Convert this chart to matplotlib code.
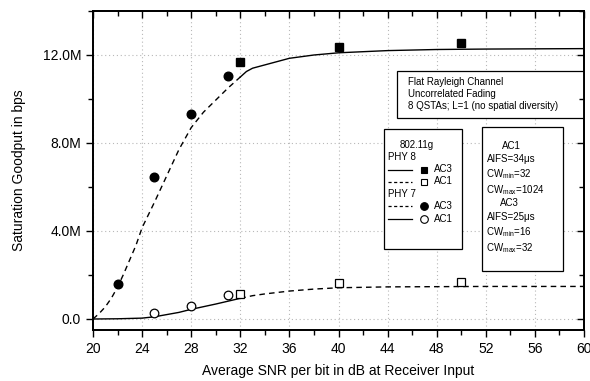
import matplotlib
matplotlib.use("Agg")
import matplotlib.pyplot as plt
from matplotlib.patches import Rectangle
from matplotlib.lines import Line2D
from matplotlib.ticker import MultipleLocator, FuncFormatter, NullFormatter

plt.rcParams['font.family'] = ['Liberation Sans', 'DejaVu Sans']
plt.rcParams['mathtext.fontset'] = 'custom'
plt.rcParams['mathtext.rm'] = 'Liberation Sans'
plt.rcParams['mathtext.it'] = 'Liberation Sans'

# ---- data (Mbps) ----
# simulation points
ac3_phy7_x = [22, 25, 28, 31]
ac3_phy7_y = [1.60, 6.44, 9.31, 11.03]
ac3_phy8_x = [32, 40, 50]
ac3_phy8_y = [11.70, 12.38, 12.55]
ac1_phy7_x = [25, 28, 31]
ac1_phy7_y = [0.29, 0.60, 1.07]
ac1_phy8_x = [32, 40, 50]
ac1_phy8_y = [1.12, 1.65, 1.68]

# analytical curves
ac3_phy7_cx = [20, 20.5, 21, 21.5, 22, 22.5, 23, 23.5, 24, 25, 26, 27, 28, 29, 30, 31, 32]
ac3_phy7_cy = [0.0, 0.25, 0.55, 0.95, 1.45, 2.05, 2.7, 3.35, 4.15, 5.3, 6.5, 7.7, 8.7, 9.4, 9.95, 10.5, 11.0]
ac3_phy8_cx = [32, 32.5, 33, 34, 35, 36, 38, 40, 44, 48, 52, 56, 60]
ac3_phy8_cy = [11.0, 11.25, 11.4, 11.55, 11.7, 11.85, 12.0, 12.1, 12.2, 12.25, 12.27, 12.28, 12.29]
ac1_phy7_cx = [20, 22, 24, 25, 26, 27, 28, 29, 30, 31, 32]
ac1_phy7_cy = [0.0, 0.01, 0.04, 0.1, 0.2, 0.3, 0.44, 0.56, 0.68, 0.81, 0.94]
ac1_phy8_cx = [32, 33, 34, 36, 38, 40, 44, 48, 52, 56, 60]
ac1_phy8_cy = [0.94, 1.06, 1.14, 1.27, 1.36, 1.42, 1.46, 1.47, 1.48, 1.48, 1.48]

xticks = [20, 24, 28, 32, 36, 40, 44, 48, 52, 56, 60]
yticks = [0, 4, 8, 12]

W, H = 590, 381
L, R, T, B = 93, 584, 11, 330

fig = plt.figure(figsize=(W / 100, H / 100), dpi=100)
ax = fig.add_axes([L / W, 1 - B / H, (R - L) / W, (B - T) / H])

def M(v):
    return [a * 1e6 for a in v]

ax.plot(ac3_phy7_cx, M(ac3_phy7_cy), color='black', lw=1.0, ls=(0, (4, 3)))
ax.plot(ac3_phy8_cx, M(ac3_phy8_cy), color='black', lw=1.0, ls='-')
ax.plot(ac1_phy7_cx, M(ac1_phy7_cy), color='black', lw=1.0, ls='-')
ax.plot(ac1_phy8_cx, M(ac1_phy8_cy), color='black', lw=1.0, ls=(0, (4, 3)))

ax.plot(ac3_phy7_x, M(ac3_phy7_y), 'o', color='black', ms=6.2, ls='none')
ax.plot(ac3_phy8_x, M(ac3_phy8_y), 's', color='black', ms=5.5, ls='none')
ax.plot(ac1_phy7_x, M(ac1_phy7_y), 'o', mfc='white', mec='black', mew=0.9, ms=6.2, ls='none')
ax.plot(ac1_phy8_x, M(ac1_phy8_y), 's', mfc='white', mec='black', mew=0.9, ms=5.5, ls='none')

ax.set_xlim(20, 60)
ax.set_ylim(-0.5e6, 14e6)
ax.set_xticks(xticks)
ax.set_yticks(M(yticks))
ax.xaxis.set_minor_locator(MultipleLocator(2))
ax.yaxis.set_minor_locator(MultipleLocator(2e6))
ax.yaxis.set_major_formatter(FuncFormatter(lambda v, p: '0.0' if abs(v) < 1 else '%.1fM' % (v / 1e6)))
ax.tick_params(axis='both', which='major', labelsize=10, length=5, width=1.0, colors='black')
ax.tick_params(axis='both', which='minor', length=3.5, width=1.0)
ax.tick_params(axis='x', which='both', direction='out', top=False)
ax.tick_params(axis='y', which='both', direction='out', right=False)

# inward ticks on top and right (no labels)
ax2 = ax.twinx()
ax2.set_ylim(ax.get_ylim())
ax2.set_yticks(M(yticks))
ax2.set_yticklabels([''] * len(yticks))
ax2.yaxis.set_minor_locator(MultipleLocator(2e6))
ax2.yaxis.set_minor_formatter(NullFormatter())
ax2.tick_params(axis='y', which='both', direction='in', labelright=False, width=1.0)
ax2.tick_params(axis='y', which='major', length=5)
ax2.tick_params(axis='y', which='minor', length=3.5)
ax3 = ax.twiny()
ax3.set_xlim(ax.get_xlim())
ax3.set_xticks(xticks)
ax3.set_xticklabels([''] * len(xticks))
ax3.xaxis.set_minor_locator(MultipleLocator(2))
ax3.xaxis.set_minor_formatter(NullFormatter())
ax3.tick_params(axis='x', which='both', direction='in', labeltop=False, width=1.0)
ax3.tick_params(axis='x', which='major', length=5)
ax3.tick_params(axis='x', which='minor', length=3.5)
for a in (ax, ax2, ax3):
    for s in a.spines.values():
        s.set_linewidth(1.1)

ax.grid(True, which='major', ls=(0, (1, 2.5)), color='#b8b8b8', lw=0.8)
ax.set_axisbelow(True)

ax.set_xlabel('Average SNR per bit in dB at Receiver Input', fontsize=10, labelpad=6)
ax.set_ylabel('Saturation Goodput in bps', fontsize=10, labelpad=12)

tr = ax.transAxes
def P(px, py):
    return ((px - L) / (R - L), (B - py) / (B - T))

def box(x0, y0, x1, y1):
    a0 = P(x0, y1)
    a1 = P(x1, y0)
    ax.add_patch(Rectangle(a0, a1[0] - a0[0], a1[1] - a0[1], transform=tr,
                           facecolor='white', edgecolor='black', lw=0.9, zorder=5))

def txt(px, py, s, ha='left', fs=7):
    x, y = P(px, py)
    ax.text(x, y, s, transform=tr, ha=ha, va='center', fontsize=fs, zorder=6)

# channel box
box(397, 71, 584, 118)
txt(408, 82, 'Flat Rayleigh Channel')
txt(408, 94, 'Uncorrelated Fading')
txt(408, 105.5, '8 QSTAs; L=1 (no spatial diversity)')

# legend box
box(384, 129, 462, 249)
txt(417, 145, '802.11g', ha='center')
txt(388, 157, 'PHY 8')
txt(388, 194, 'PHY 7')
items = [(169.5, '-', 's', 'black'), (181.5, (0, (2.5, 2)), 's', 'white'),
         (206, (0, (2.5, 2)), 'o', 'black'), (218.5, '-', 'o', 'white')]
labels = ['AC3', 'AC1', 'AC3', 'AC1']
for (py, ls, mk, fc), lab in zip(items, labels):
    x0, y0 = P(388, py)
    x1, _ = P(412, py)
    ax.add_line(Line2D([x0, x1], [y0, y0], transform=tr, color='black', lw=0.9, ls=ls, zorder=6))
    xm, _ = P(423.5, py)
    ax.add_line(Line2D([xm], [y0], transform=tr, marker=mk, mfc=fc, mec='black', mew=0.8,
                       ms=5.5 if mk == 'o' else 4.8, ls='none', zorder=6))
    txt(434, py, lab)

# AC parameter box
box(482, 127, 563, 271)
txt(511.5, 146, 'AC1', ha='center')
txt(486.5, 159, 'AIFS=34\u03bcs')
txt(486.5, 174, r'CW$_{\mathrm{min}}$=32')
txt(486.5, 190, r'CW$_{\mathrm{max}}$=1024')
txt(509, 203, 'AC3', ha='center')
txt(486.5, 217, 'AIFS=25\u03bcs')
txt(486.5, 232, r'CW$_{\mathrm{min}}$=16')
txt(486.5, 248, r'CW$_{\mathrm{max}}$=32')

fig.savefig('out.png', dpi=100)
